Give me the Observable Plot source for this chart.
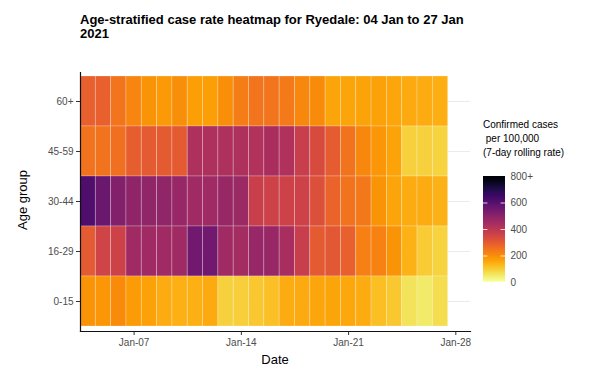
<!DOCTYPE html>
<html>
<head>
<meta charset="utf-8">
<script src="https://cdn.jsdelivr.net/npm/d3@7"></script>
<script src="https://cdn.jsdelivr.net/npm/@observablehq/plot@0.6"></script>
<style>
  html, body { margin: 0; padding: 0; background: #fff; }
  #wrap { position: relative; width: 589px; height: 372px; overflow: hidden; font-family: "Liberation Sans", Arial, sans-serif; }
  #wrap > * { position: absolute; }
  #title { left: 80px; top: 13px; font-size: 13px; line-height: 14px; font-weight: bold; color: #000; white-space: nowrap; }
  #xlab { left: 0; width: 550px; text-align: center; top: 352px; font-size: 13px; color: #000; }
  #ylab { left: 22px; top: 200px; font-size: 13px; color: #000; transform: translate(-50%, -50%) rotate(-90deg); white-space: nowrap; }
  #legtitle { left: 483px; top: 118px; font-size: 10px; line-height: 14px; color: #000; white-space: pre; }
</style>
</head>
<body>
<div id="wrap">
  <div id="main" style="left:0;top:0"></div>
  <div id="legend" style="left:470px;top:160px"></div>
  <div id="title">Age-stratified case rate heatmap for Ryedale: 04 Jan to 27 Jan<br>2021</div>
  <div id="xlab">Date</div>
  <div id="ylab">Age group</div>
  <div id="legtitle">Confirmed cases
 per 100,000
(7-day rolling rate)</div>
</div>
<script>
// ---- data ----
const dates = ["2021-01-04","2021-01-05","2021-01-06","2021-01-07","2021-01-08","2021-01-09","2021-01-10","2021-01-11",
  "2021-01-12","2021-01-13","2021-01-14","2021-01-15","2021-01-16","2021-01-17","2021-01-18","2021-01-19",
  "2021-01-20","2021-01-21","2021-01-22","2021-01-23","2021-01-24","2021-01-25","2021-01-26","2021-01-27"];
const ageGroups = ["60+", "45-59", "30-44", "16-29", "0-15"];
const rate60plus = [285,285,245,215,190,180,200,170,170,200,230,245,245,235,210,205,160,160,165,168,158,152,148,146];
const rate45to59 = [250,250,255,290,300,300,300,430,430,430,430,420,435,425,375,335,295,250,210,185,165,90,90,85];
const rate30to44 = [615,560,515,490,485,485,475,455,455,470,465,370,360,360,360,325,280,250,240,190,160,150,150,140];
const rate16to29 = [300,355,360,455,455,455,455,550,550,455,450,475,470,440,375,300,305,285,225,220,190,140,100,85];
const rate0to15 = [190,182,205,178,168,148,142,142,152,90,92,105,118,148,152,158,160,156,150,120,105,60,50,70];
const xTicks = ["2021-01-07","2021-01-14","2021-01-21","2021-01-28"];
const legendTicks = [0, 200, 400, 600, 800];

const series = {"60+": rate60plus, "45-59": rate45to59, "30-44": rate30to44, "16-29": rate16to29, "0-15": rate0to15};
const parse = s => new Date(s + "T00:00:00Z");
const HALF = 12 * 3600 * 1000;
const table = [];
for (const age of ageGroups) {
  series[age].forEach((v, i) => {
    const d = parse(dates[i]);
    table.push({age, date: d, start: new Date(+d - HALF), end: new Date(+d + HALF), value: v});
  });
}

const colorOpts = {type: "linear", domain: [0, 800], scheme: "inferno", reverse: true, clamp: true};
const textColor = "#4d4d4d";

const main = Plot.plot({
  width: 589, height: 372,
  marginTop: 72, marginBottom: 41, marginLeft: 80, marginRight: 119,
  style: {fontFamily: "Liberation Sans, Arial, sans-serif", fontSize: "10px", background: "transparent"},
  x: {type: "utc", domain: [new Date(+parse(dates[0]) - HALF), new Date(+parse(dates[dates.length - 1]) + 47 * 3600 * 1000)]},
  y: {type: "band", domain: ageGroups, padding: 0, insetTop: 3, insetBottom: 5},
  color: colorOpts,
  marks: [
    Plot.gridY({stroke: "#ebebeb", strokeOpacity: 1, strokeWidth: 1}),
    Plot.barX(table, {x1: "start", x2: "end", y: "age", fill: "value", stroke: "white", strokeOpacity: 0.3, strokeWidth: 0.8}),
    Plot.axisX({ticks: xTicks.map(parse), tickFormat: d3.utcFormat("%b-%d"), tickSize: 4, tickPadding: 3, stroke: "#333", color: textColor, label: null, fontSize: 10}),
    Plot.axisY({tickSize: 4, tickPadding: 3, stroke: "#333", color: textColor, label: null, fontSize: 10}),
    Plot.frame({anchor: "bottom", stroke: "#111", strokeWidth: 1.2}),
    Plot.frame({anchor: "left", stroke: "#111", strokeWidth: 1.2})
  ]
});
document.getElementById("main").appendChild(main);

const ramp = d3.range(0, 800, 2);
const legend = Plot.plot({
  width: 119, height: 140,
  marginTop: 16, marginBottom: 18, marginLeft: 13, marginRight: 84,
  style: {fontFamily: "Liberation Sans, Arial, sans-serif", fontSize: "10px", background: "transparent"},
  x: {domain: [0, 1], axis: null},
  y: {domain: [0, 800]},
  color: colorOpts,
  marks: [
    Plot.rect(ramp, {x1: 0, x2: 1, y1: d => d, y2: d => Math.min(800, d + 6), fill: d => d + 1, shapeRendering: "crispEdges"}),
    Plot.ruleY(legendTicks.slice(1, 4), {x1: 0, x2: 0.2, stroke: "white", strokeOpacity: 0.8}),
    Plot.ruleY(legendTicks.slice(1, 4), {x1: 0.8, x2: 1, stroke: "white", strokeOpacity: 0.8}),
    Plot.axisY({anchor: "right", ticks: legendTicks, tickFormat: d => d === 800 ? "800+" : String(d), tickSize: 0, tickPadding: 5, color: textColor, label: null, fontSize: 10})
  ]
});
document.getElementById("legend").appendChild(legend);
</script>
</body>
</html>
